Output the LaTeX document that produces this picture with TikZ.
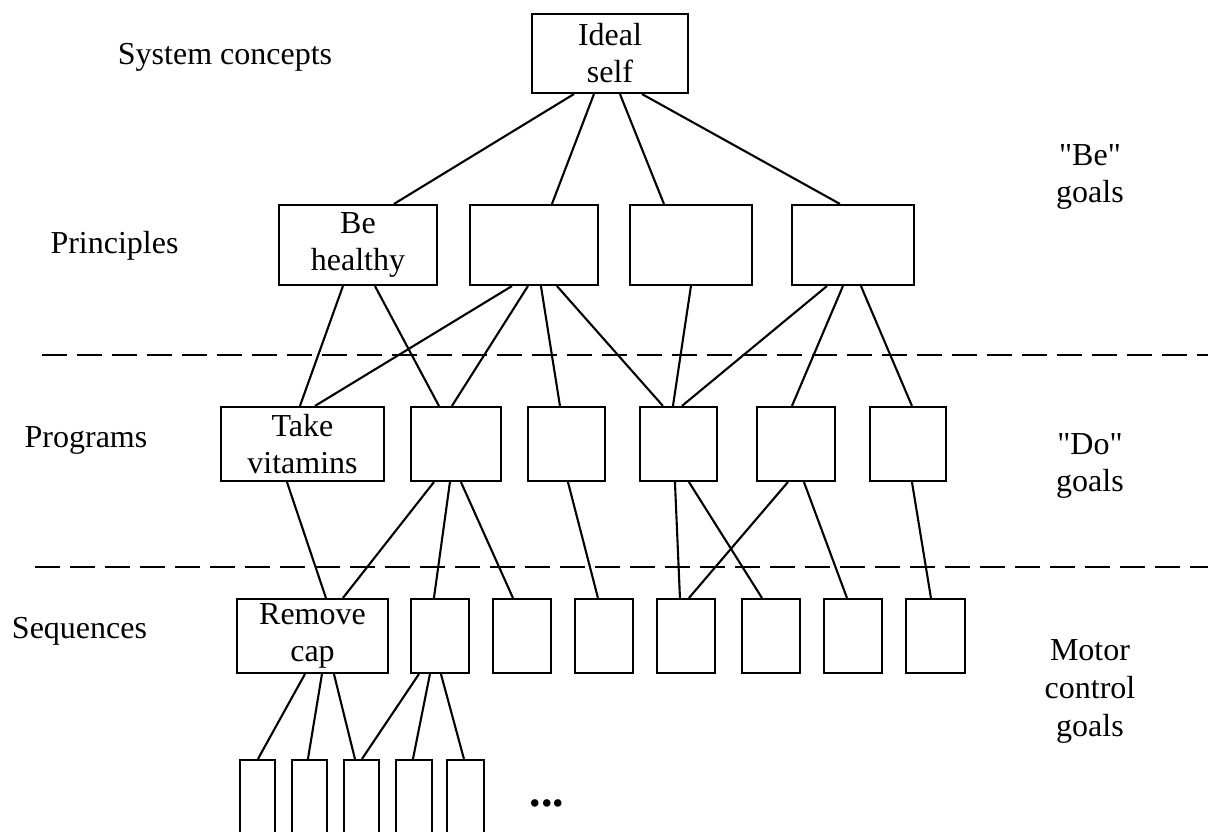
\documentclass[tikz,border=0pt]{standalone}
\usepackage{fontspec}
\setmainfont{Liberation Serif}[Ligatures=TeXOff]
\begin{document}
\begin{tikzpicture}[x=1pt,y=-1pt,
  txt/.style={font=\fontsize{32}{37}\selectfont, inner sep=0pt, align=center},
  box/.style={txt, draw, rectangle, line width=2.1pt},
  link/.style={line width=2.1pt},
  sep/.style={line width=2.1pt, dash pattern=on 25pt off 10pt}]
\clip (0,0) rectangle (1208,832);

% level names on the left
\node[txt, anchor=base] (lsys)  at (225,65)   {System concepts};
\node[txt, anchor=base] (lpri)  at (114.5,253) {Principles};
\node[txt, anchor=base] (lprog) at (86,447)   {Programs};
\node[txt, anchor=base] (lseq)  at (79.5,638) {Sequences};

% goal kinds on the right
\node[txt] (lbe)    at (1090,177) {"Be"\\goals};
\node[txt] (ldo)    at (1090,466) {"Do"\\goals};
\node[txt, font=\fontsize{32}{38}\selectfont] (lmotor) at (1090,691) {Motor\\control\\goals};

% separators between the goal kinds
\coordinate (d1a) at (42,355);  \coordinate (d1b) at (1208,355);
\coordinate (d2a) at (35,567);  \coordinate (d2b) at (1208,567);
\draw[sep] (d1a) -- (d1b);
\draw[sep] (d2a) -- (d2b);

% system concept
\node[box, minimum width=156pt, minimum height=79pt] (I) at (610,53.5) {Ideal\\self};

% principles
\node[box, minimum width=158pt, minimum height=80pt] (P1) at (358,245) {Be\\healthy};
\node[box, minimum width=128pt, minimum height=80pt] (P2) at (534,245) {};
\node[box, minimum width=122pt, minimum height=80pt] (P3) at (691,245) {};
\node[box, minimum width=122pt, minimum height=80pt] (P4) at (853,245) {};

% programs
\node[box, minimum width=163pt, minimum height=74pt] (G1) at (302.5,444) {Take\\vitamins};
\node[box, minimum width=90pt,  minimum height=74pt] (G2) at (456,444) {};
\node[box, minimum width=77pt,  minimum height=74pt] (G3) at (566.5,444) {};
\node[box, minimum width=77pt,  minimum height=74pt] (G4) at (678.5,444) {};
\node[box, minimum width=78pt,  minimum height=74pt] (G5) at (796,444) {};
\node[box, minimum width=76pt,  minimum height=74pt] (G6) at (908,444) {};

% sequences
\node[box, minimum width=151pt, minimum height=74pt] (S1) at (312.5,636) {Remove\\cap};
\node[box, minimum width=58pt, minimum height=74pt] (S2) at (440,636) {};
\node[box, minimum width=58pt, minimum height=74pt] (S3) at (522,636) {};
\node[box, minimum width=58pt, minimum height=74pt] (S4) at (604,636) {};
\node[box, minimum width=58pt, minimum height=74pt] (S5) at (686,636) {};
\node[box, minimum width=58pt, minimum height=74pt] (S6) at (771,636) {};
\node[box, minimum width=58pt, minimum height=74pt] (S7) at (853,636) {};
\node[box, minimum width=59pt, minimum height=74pt] (S8) at (935.5,636) {};

% motor control level (runs off the bottom edge)
\node[box, minimum width=35pt, minimum height=100pt] (B1) at (257.5,810) {};
\node[box, minimum width=35pt, minimum height=100pt] (B2) at (309.5,810) {};
\node[box, minimum width=35pt, minimum height=100pt] (B3) at (361.5,810) {};
\node[box, minimum width=36pt, minimum height=100pt] (B4) at (414,810) {};
\node[box, minimum width=37pt, minimum height=100pt] (B5) at (465.5,810) {};
\node[txt, font=\fontsize{46}{50}\selectfont\bfseries, anchor=base] (dots) at (547,806) {...};

% ideal self -> principles
\draw[link] ([xshift=43pt]I.south west)  -- ([xshift=116pt]P1.north west);
\draw[link] ([xshift=63pt]I.south west)  -- ([xshift=83pt]P2.north west);
\draw[link] ([xshift=89pt]I.south west)  -- ([xshift=35pt]P3.north west);
\draw[link] ([xshift=111pt]I.south west) -- ([xshift=49pt]P4.north west);

% principles -> programs
\draw[link] ([xshift=65pt]P1.south west) -- ([xshift=80pt]G1.north west);
\draw[link] ([xshift=97pt]P1.south west) -- ([xshift=29pt]G2.north west);
\draw[link] ([xshift=43pt]P2.south west) -- ([xshift=95pt]G1.north west);
\draw[link] ([xshift=59pt]P2.south west) -- ([xshift=42pt]G2.north west);
\draw[link] ([xshift=72pt]P2.south west) -- ([xshift=33pt]G3.north west);
\draw[link] ([xshift=88pt]P2.south west) -- ([xshift=24pt]G4.north west);
\draw[link] ([xshift=62pt]P3.south west) -- ([xshift=34pt]G4.north west);
\draw[link] ([xshift=36pt]P4.south west) -- ([xshift=43pt]G4.north west);
\draw[link] ([xshift=52pt]P4.south west) -- ([xshift=36pt]G5.north west);
\draw[link] ([xshift=70pt]P4.south west) -- ([xshift=43pt]G6.north west);

% programs -> sequences
\draw[link] ([xshift=67pt]G1.south west) -- ([xshift=90pt]S1.north west);
\draw[link] ([xshift=24pt]G2.south west) -- ([xshift=107pt]S1.north west);
\draw[link] ([xshift=40pt]G2.south west) -- ([xshift=24pt]S2.north west);
\draw[link] ([xshift=51pt]G2.south west) -- ([xshift=21pt]S3.north west);
\draw[link] ([xshift=41pt]G3.south west) -- ([xshift=24pt]S4.north west);
\draw[link] ([xshift=36pt]G4.south west) -- ([xshift=24pt]S5.north west);
\draw[link] ([xshift=50pt]G4.south west) -- ([xshift=21pt]S6.north west);
\draw[link] ([xshift=32pt]G5.south west) -- ([xshift=33pt]S5.north west);
\draw[link] ([xshift=48pt]G5.south west) -- ([xshift=24pt]S7.north west);
\draw[link] ([xshift=43pt]G6.south west) -- ([xshift=26pt]S8.north west);

% sequences -> motor control
\draw[link] ([xshift=69pt]S1.south west) -- ([xshift=19pt]B1.north west);
\draw[link] ([xshift=86pt]S1.south west) -- ([xshift=17pt]B2.north west);
\draw[link] ([xshift=98pt]S1.south west) -- ([xshift=12pt]B3.north west);
\draw[link] ([xshift=9pt]S2.south west)  -- ([xshift=19pt]B3.north west);
\draw[link] ([xshift=20pt]S2.south west) -- ([xshift=18pt]B4.north west);
\draw[link] ([xshift=31pt]S2.south west) -- ([xshift=18pt]B5.north west);
\end{tikzpicture}
\end{document}
